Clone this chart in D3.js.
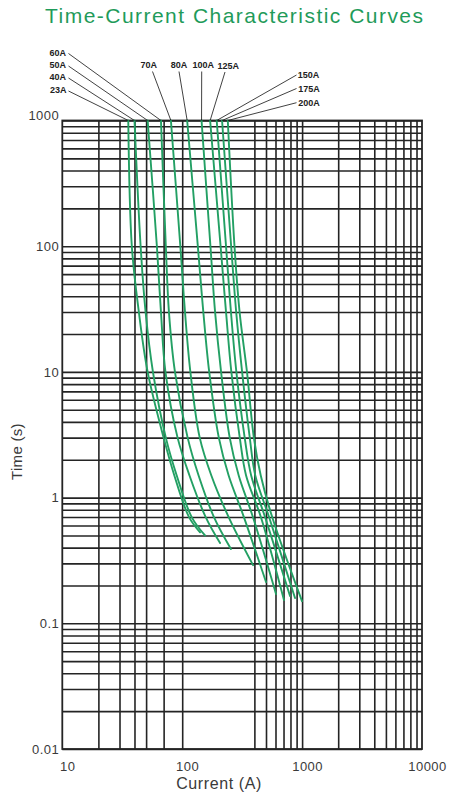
<!DOCTYPE html>
<html><head><meta charset="utf-8">
<script src="https://cdn.jsdelivr.net/npm/d3@7"></script>
<style>
body{margin:0;background:#fff;}
svg{display:block;font-family:"Liberation Sans",Arial,sans-serif;}
</style></head>
<body><div id="chart"></div>
<script>
// ---- data ----
const ratings = ["23A","40A","50A","60A","70A","80A","100A","125A","150A","175A","200A"];
// each curve: [current (A), time (s)]
const curve23A  = [[35.5,1000],[38,100],[43.5,30],[51.5,10],[70,3],[86,1.5],[114,0.7],[141,0.53]];
const curve40A  = [[40,1000],[45,100],[49.5,30],[57,10],[73,3],[90,1.5],[120,0.7],[155,0.5]];
const curve50A  = [[51.5,1000],[61.5,100],[66.5,30],[72.5,10],[91.5,3],[115,1.5],[157,0.7],[207,0.435]];
const curve60A  = [[66.5,1000],[73,100],[77.5,30],[87,10],[111,3],[137,1.5],[184,0.7],[255,0.39]];
const curve70A  = [[80.5,1000],[96.5,100],[105.5,30],[117,10],[140,3],[175,1.5],[244,0.7],[390,0.29]];
const curve80A  = [[110,1000],[135,100],[150,30],[168,10],[202,3],[244,1.5],[327,0.7],[500,0.213]];
const curve100A = [[145,1000],[172,100],[188,30],[211,10],[249,3],[296,1.5],[389,0.7],[606,0.171]];
const curve125A = [[171,1000],[209,100],[232,30],[257,10],[302,3],[341,1.5],[453,0.7],[706,0.153]];
const curve150A = [[194,1000],[232,100],[255,30],[283,10],[332,3],[376,1.5],[491,0.7],[793,0.165]];
const curve175A = [[215,1000],[256,100],[282,30],[316,10],[366,3],[407,1.5],[530,0.7],[873,0.159]];
const curve200A = [[240,1000],[273,100],[301,30],[347,10],[396,3],[452,1.5],[563,0.7],[998,0.15]];
const curves = [curve23A,curve40A,curve50A,curve60A,curve70A,curve80A,curve100A,curve125A,curve150A,curve175A,curve200A];

const currentTickLabels = [10,100,1000,10000];
const timeTickLabels = [1000,100,10,1,0.1,0.01];
const currentGrid = [20,30,40,50,70,100,400,500,600,700,800,900,1000,2000,3000,4000,5000,6000,7000,8000,9000];
const timeGrid = [];
[0.01,0.1,1,10,100].forEach(d => { for (let k=1;k<=9;k++) timeGrid.push(+(d*k).toPrecision(3)); });
timeGrid.push(1000);

const titleText = "Time-Current Characteristic Curves";
const xTitle = "Current (A)";
const yTitle = "Time (s)";

// ---- layout ----
const W = 454, H = 796;
const L = 62.3, R = 422, T = 120.5, B = 749;
const labelLayout = {
  "60A": {tx:66, ty:55.5, a:"end", lx:68.5, ly:53.5},
  "50A": {tx:66, ty:67.5, a:"end", lx:68.5, ly:66},
  "40A": {tx:66, ty:79.5, a:"end", lx:68.5, ly:78},
  "23A": {tx:66.5, ty:92.5, a:"end", lx:68.5, ly:91},
  "70A": {tx:148.8, ty:67.5, a:"middle", lx:152.5, ly:71.5},
  "80A": {tx:179, ty:67.5, a:"middle", lx:179, ly:71.5},
  "100A": {tx:203.3, ty:67.5, a:"middle", lx:201.7, ly:71.5},
  "125A": {tx:228.3, ty:68.5, a:"middle", lx:225, ly:72},
  "150A": {tx:297.7, ty:78, a:"start", lx:296.5, ly:75},
  "175A": {tx:298.3, ty:91.5, a:"start", lx:296.5, ly:88.5},
  "200A": {tx:298.3, ty:106, a:"start", lx:296.5, ly:102.7}
};
const gridColor = "#242424", curveColor = "#23a064", titleColor = "#1f9b5a", textColor = "#3a3a3a";

const svg = d3.select("#chart").append("svg").attr("width",W).attr("height",H);
const x = d3.scaleLog().domain([10,10000]).range([L,R]);
const y = d3.scaleLog().domain([0.01,1000]).range([B,T]);

// grid
svg.append("g").attr("transform",`translate(0,${B})`)
  .call(d3.axisBottom(x).tickValues(currentGrid).tickSize(-(B-T)).tickFormat(""))
  .call(g => { g.select(".domain").remove(); g.selectAll("line").attr("stroke",gridColor).attr("stroke-width",1.6); });
svg.append("g").attr("transform",`translate(${L},0)`)
  .call(d3.axisLeft(y).tickValues(timeGrid).tickSize(-(R-L)).tickFormat(""))
  .call(g => { g.select(".domain").remove(); g.selectAll("line").attr("stroke",gridColor).attr("stroke-width",1.6); });
svg.append("rect").attr("x",L).attr("y",T).attr("width",R-L).attr("height",B-T)
  .attr("fill","none").attr("stroke",gridColor).attr("stroke-width",1.8);

// tick labels
svg.append("g").attr("transform",`translate(0,${B})`)
  .call(d3.axisBottom(x).tickValues(currentTickLabels).tickSize(0).tickPadding(13).tickFormat(d3.format("d")))
  .call(g => { g.select(".domain").remove();
    g.selectAll("text").attr("font-size",13).attr("fill",textColor).attr("dx",5).attr("letter-spacing",0.5)
      .attr("font-family","'Liberation Sans',Arial,sans-serif"); });
svg.append("g").attr("transform",`translate(${L},0)`)
  .call(d3.axisLeft(y).tickValues(timeTickLabels).tickSize(0).tickPadding(3).tickFormat(d => String(d)))
  .call(g => { g.select(".domain").remove();
    g.selectAll("text").attr("font-size",13).attr("fill",textColor).attr("letter-spacing",0.5)
      .attr("font-family","'Liberation Sans',Arial,sans-serif")
      .attr("dy", d => d === 1000 ? "-0.05em" : "0.32em"); });

// curves
const line = d3.line().x(d => x(d[0])).y(d => y(d[1])).curve(d3.curveCatmullRom.alpha(0.5));
svg.append("g").selectAll("path").data(curves).join("path")
  .attr("d", line).attr("fill","none").attr("stroke",curveColor).attr("stroke-width",1.9)
  .attr("stroke-linecap","round");

// labels + leaders
const lab = svg.append("g");
ratings.forEach((r,i) => {
  const p = labelLayout[r], top = curves[i][0];
  lab.append("line").attr("x1",p.lx).attr("y1",p.ly).attr("x2",x(top[0])).attr("y2",y(top[1]))
    .attr("stroke","#111").attr("stroke-width",0.8);
  lab.append("text").attr("x",p.tx).attr("y",p.ty).attr("text-anchor",p.a)
    .attr("font-size",9).attr("font-weight","bold").attr("fill","#222").text(r);
});

// titles
svg.append("text").attr("x",45).attr("y",23).attr("font-size",21).attr("fill",titleColor)
  .attr("textLength",378).attr("lengthAdjust","spacing").text(titleText);
svg.append("text").attr("x",219).attr("y",789).attr("text-anchor","middle").attr("font-size",16)
  .attr("letter-spacing",0.6).attr("fill",textColor).text(xTitle);
svg.append("text").attr("transform","translate(22,451.5) rotate(-90)").attr("text-anchor","middle")
  .attr("font-size",15).attr("letter-spacing",0.3).attr("fill",textColor).text(yTitle);
</script></body></html>
